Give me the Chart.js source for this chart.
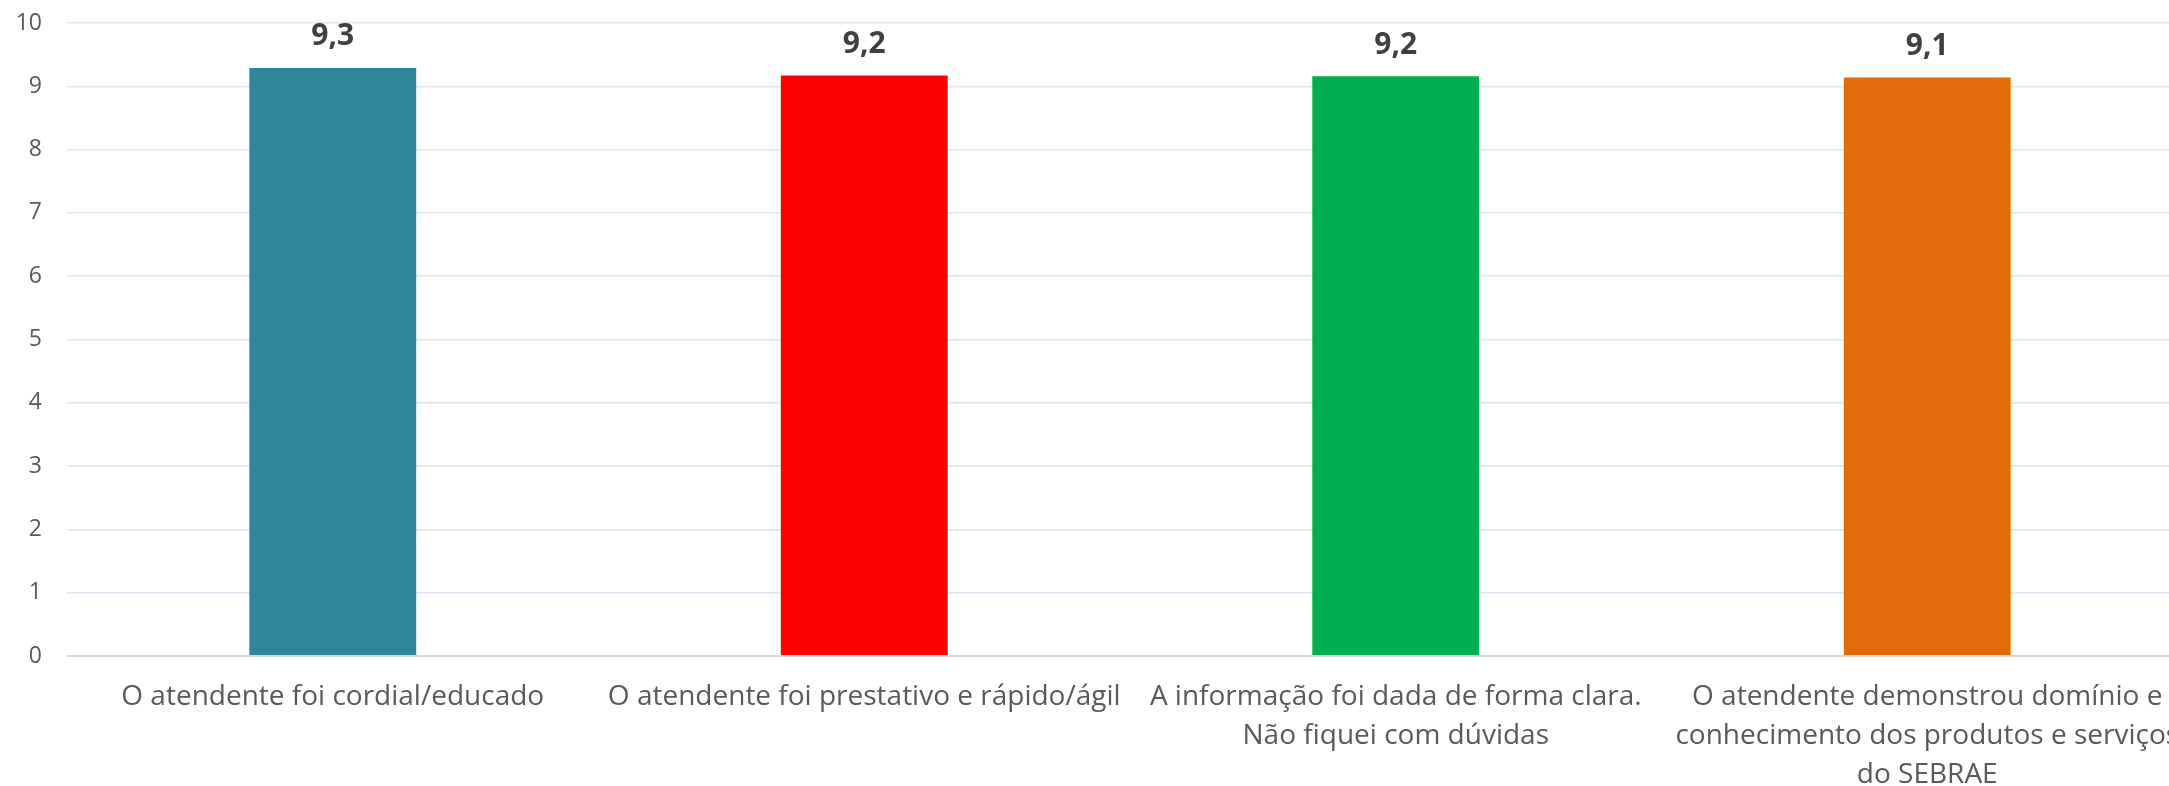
<!DOCTYPE html>
<html lang="pt">
<head>
    <meta charset="UTF-8">
    <title>Avaliação do atendimento</title>
    <script src="https://cdn.jsdelivr.net/npm/chart.js"></script>
    <style>
        html, body {
            margin: 0;
            padding: 0;
            background: #fff;
            overflow: hidden;
        }
        .wrap {
            width: 2195px;
            height: 786px;
        }
    </style>
</head>
<body>
    <div class="wrap">
        <canvas id="grafico"></canvas>
    </div>

    <script>
        // Dados
        const categorias = [
            'O atendente foi cordial/educado',
            'O atendente foi prestativo e rápido/ágil',
            ['A informação foi dada de forma clara.', 'Não fiquei com dúvidas'],
            ['O atendente demonstrou domínio e', 'conhecimento dos produtos e serviços', 'do SEBRAE']
        ];
        const notas = [9.29, 9.17, 9.16, 9.14];
        const cores = ['#31859c', '#ff0000', '#00b050', '#e36c0a'];
        const yMin = 0;
        const yMax = 10;
        const yPasso = 1;

        // Rótulos de valor acima das barras (ex.: 9,3)
        const rotulosValor = {
            id: 'rotulosValor',
            afterDatasetsDraw(chart) {
                const ctx = chart.ctx;
                const meta = chart.getDatasetMeta(0);
                ctx.save();
                ctx.font = 'bold 30px "Open Sans"';
                ctx.fillStyle = '#404040';
                ctx.textAlign = 'center';
                ctx.textBaseline = 'middle';
                meta.data.forEach((bar, i) => {
                    const txt = notas[i].toFixed(1).replace('.', ',');
                    ctx.fillText(txt, bar.x, bar.y - 31);
                });
                ctx.restore();
            }
        };

        const ctx = document.getElementById('grafico').getContext('2d');
        new Chart(ctx, {
            type: 'bar',
            data: {
                labels: categorias,
                datasets: [{
                    data: notas,
                    backgroundColor: cores,
                    borderWidth: 0,
                    barPercentage: 0.314,
                    categoryPercentage: 1
                }]
            },
            options: {
                responsive: true,
                maintainAspectRatio: false,
                animation: false,
                layout: {
                    padding: { top: 23, left: 17, right: 2, bottom: 0 }
                },
                plugins: {
                    legend: { display: false },
                    tooltip: { enabled: false }
                },
                scales: {
                    x: {
                        grid: { display: false, drawTicks: false },
                        border: { display: false },
                        ticks: {
                            color: '#595959',
                            font: { family: 'Open Sans', size: 28, lineHeight: 1.38 },
                            padding: 22,
                            autoSkip: false,
                            maxRotation: 0,
                            minRotation: 0
                        },
                        afterFit: (s) => {
                            s.height = 130;
                            s.paddingLeft = 0;
                            s.paddingRight = 0;
                        }
                    },
                    y: {
                        min: yMin,
                        max: yMax,
                        grid: {
                            drawTicks: false,
                            color: (c) => c.tick && c.tick.value === 0 ? '#d9d9d9' : '#dce6f4',
                            lineWidth: (c) => c.tick && c.tick.value === 0 ? 2 : 1.5
                        },
                        border: { display: false },
                        ticks: {
                            stepSize: yPasso,
                            color: '#595959',
                            font: { family: 'Open Sans', size: 23 },
                            padding: 25
                        },
                        afterFit: (s) => {
                            s.width = 50;
                            s.paddingTop = 0;
                            s.paddingBottom = 0;
                        }
                    }
                }
            },
            plugins: [rotulosValor]
        });
    </script>
</body>
</html>
